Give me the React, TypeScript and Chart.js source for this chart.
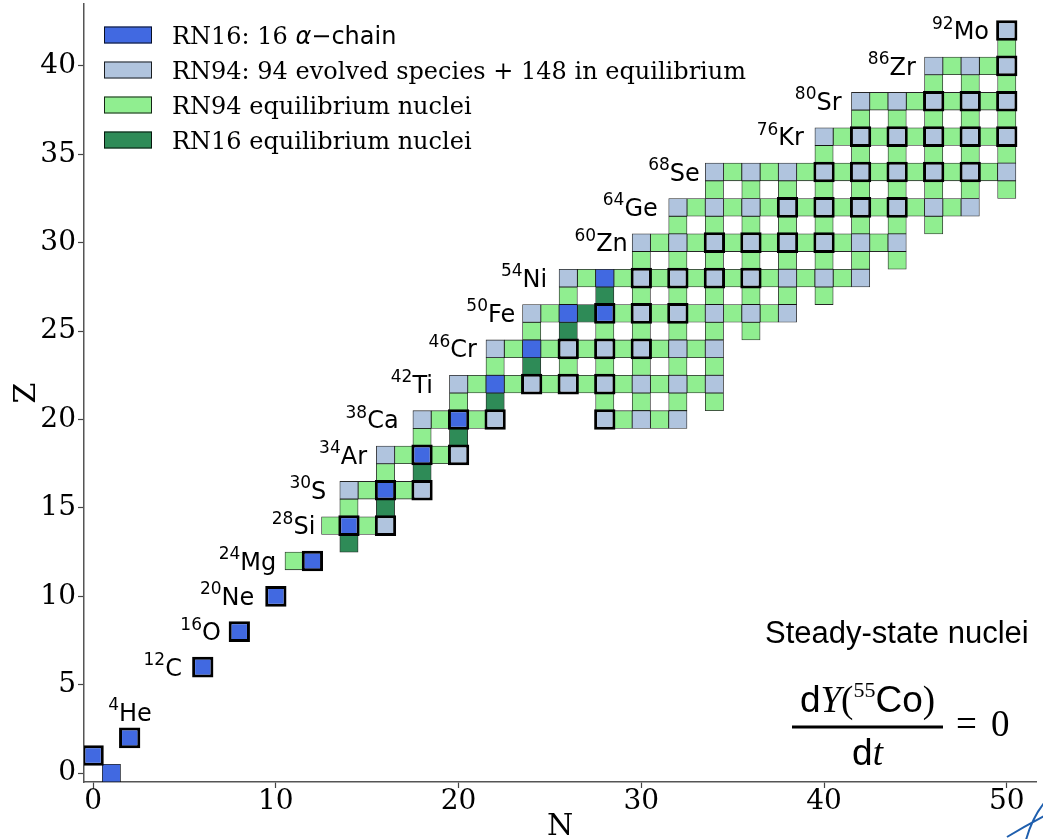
import React, { useEffect, useRef } from 'react';
import { Chart, registerables } from 'chart.js';

Chart.register(...registerables);

// ---- data: [N, Z] pairs ----
const alphaChainThick: [number, number][] = [
  [0, 1], [2, 2], [6, 6], [8, 8], [10, 10], [12, 12], [14, 14], [16, 16], [18, 18], [20, 20], [28, 26],
];
const alphaChainThin: [number, number][] = [[1, 0], [22, 22], [24, 24], [26, 26], [28, 28]];

const rn94EvolvedThick: [number, number][] = [
  [16, 14], [18, 16], [20, 18], [22, 20], [28, 20],
  [24, 22], [26, 22], [28, 22], [26, 24], [28, 24], [30, 24],
  [30, 26], [32, 26], [30, 28], [32, 28], [34, 28], [36, 28],
  [34, 30], [36, 30], [38, 30], [40, 30], [38, 32], [40, 32], [42, 32], [44, 32],
  [40, 34], [42, 34], [44, 34], [46, 34], [48, 34],
  [42, 36], [44, 36], [46, 36], [48, 36], [50, 36],
  [46, 38], [48, 38], [50, 38], [50, 40], [50, 42],
];
const rn94EvolvedThin: [number, number][] = [
  [14, 16], [16, 18], [18, 20], [30, 20], [32, 20],
  [20, 22], [30, 22], [32, 22], [34, 22], [22, 24], [32, 24], [34, 24],
  [24, 26], [34, 26], [36, 26], [38, 26], [26, 28], [38, 28], [40, 28], [42, 28],
  [30, 30], [32, 30], [42, 30], [44, 30], [32, 32], [34, 32], [36, 32], [46, 32], [48, 32],
  [34, 34], [36, 34], [38, 34], [50, 34], [40, 36], [42, 38], [44, 38], [46, 40], [48, 40],
];
const rn94Equilibrium: [number, number][] = [
  [11, 12], [13, 14], [15, 14], [14, 15], [15, 16], [17, 16], [16, 17], [17, 18], [19, 18], [18, 19],
  [19, 20], [21, 20], [29, 20], [31, 20],
  [20, 21], [28, 21], [30, 21], [32, 21], [34, 21],
  [21, 22], [23, 22], [25, 22], [27, 22], [29, 22], [31, 22], [33, 22],
  [22, 23], [26, 23], [28, 23], [30, 23], [32, 23], [34, 23],
  [23, 24], [25, 24], [27, 24], [29, 24], [31, 24], [33, 24],
  [24, 25], [28, 25], [30, 25], [32, 25], [34, 25], [36, 25],
  [25, 26], [29, 26], [31, 26], [33, 26], [35, 26], [37, 26],
  [26, 27], [30, 27], [32, 27], [34, 27], [36, 27], [38, 27], [40, 27],
  [27, 28], [29, 28], [31, 28], [33, 28], [35, 28], [37, 28], [39, 28], [41, 28],
  [30, 29], [32, 29], [34, 29], [36, 29], [38, 29], [40, 29], [42, 29], [44, 29],
  [31, 30], [33, 30], [35, 30], [37, 30], [39, 30], [41, 30], [43, 30],
  [32, 31], [34, 31], [36, 31], [38, 31], [40, 31], [42, 31], [44, 31], [46, 31],
  [33, 32], [35, 32], [37, 32], [39, 32], [41, 32], [43, 32], [45, 32], [47, 32],
  [34, 33], [36, 33], [38, 33], [40, 33], [42, 33], [44, 33], [46, 33], [48, 33], [50, 33],
  [35, 34], [37, 34], [39, 34], [41, 34], [43, 34], [45, 34], [47, 34], [49, 34],
  [40, 35], [42, 35], [44, 35], [46, 35], [48, 35], [50, 35],
  [41, 36], [43, 36], [45, 36], [47, 36], [49, 36],
  [42, 37], [44, 37], [46, 37], [48, 37], [50, 37],
  [43, 38], [45, 38], [47, 38], [49, 38],
  [46, 39], [48, 39], [50, 39], [47, 40], [49, 40], [50, 41],
];
const rn16Equilibrium: [number, number][] = [
  [14, 13], [16, 15], [18, 17], [20, 19], [22, 21], [24, 23], [26, 25], [27, 26], [28, 27],
];

const xTickValues = [0, 10, 20, 30, 40, 50];
const yTickValues = [0, 5, 10, 15, 20, 25, 30, 35, 40];

const labelElements = ['He', 'C', 'O', 'Ne', 'Mg', 'Si', 'S', 'Ar', 'Ca', 'Ti', 'Cr', 'Fe', 'Ni', 'Zn', 'Ge', 'Se', 'Kr', 'Sr', 'Zr', 'Mo'];
const labelMasses = ['4', '12', '16', '20', '24', '28', '30', '34', '38', '42', '46', '50', '54', '60', '64', '68', '76', '80', '86', '92'];
const labelN = [3.21, 4.86, 6.99, 8.82, 10.02, 12.16, 12.76, 14.99, 16.72, 18.6, 21.0, 23.1, 24.85, 29.26, 30.9, 33.2, 38.9, 40.96, 45.02, 49.03];
const labelZ = [3.47, 6, 8, 10, 12, 14, 16, 18, 20, 22, 24, 26, 28, 30, 32, 34, 36, 38, 40, 42];

const BLUE = '#4169E1';
const STEEL = '#B0C4DE';
const LGREEN = '#90EE90';
const SEAGREEN = '#2E8B57';

const legendColors = [BLUE, STEEL, LGREEN, SEAGREEN];
const SERIF24 = '24px "DejaVu Serif"';
const legendParts: { t: string; f: string }[][] = [
  [
    { t: 'RN16: 16 ', f: SERIF24 },
    { t: 'α', f: 'italic 24px "DejaVu Sans"' },
    { t: '−chain', f: '24px "DejaVu Sans"' },
  ],
  [{ t: 'RN94: 94 evolved species + 148 in equilibrium', f: SERIF24 }],
  [{ t: 'RN94 equilibrium nuclei', f: SERIF24 }],
  [{ t: 'RN16 equilibrium nuclei', f: SERIF24 }],
];

const THICK_PAD = 0.085;
const toBars = (cells: [number, number][], pad: number) =>
  cells.map(([n, z]) => ({ x: n, y: [z - 0.5 - pad, z + 0.5 + pad] }));

const overlayPlugin = {
  id: 'overlay',
  afterDraw(chart: any) {
    const { ctx } = chart;
    const xs = chart.scales.x;
    const ys = chart.scales.y;
    ctx.save();
    ctx.fillStyle = '#000';
    ctx.textBaseline = 'alphabetic';

    // element labels
    for (let i = 0; i < labelElements.length; i++) {
      const px = xs.getPixelForValue(labelN[i]);
      const py = ys.getPixelForValue(labelZ[i]);
      ctx.textAlign = 'right';
      ctx.font = '24px "DejaVu Sans"';
      ctx.fillText(labelElements[i], px, py + 8.7);
      const w = ctx.measureText(labelElements[i]).width;
      ctx.font = '17px "DejaVu Sans"';
      ctx.fillText(labelMasses[i], px - w, py - 2);
    }

    // legend
    ctx.textAlign = 'left';
    for (let i = 0; i < legendParts.length; i++) {
      const cy = 35 + i * 35;
      ctx.fillStyle = legendColors[i];
      ctx.fillRect(104, cy - 8.5, 48, 17);
      ctx.strokeStyle = 'rgba(0,0,0,0.85)';
      ctx.lineWidth = 1;
      ctx.strokeRect(104.5, cy - 8, 47, 16);
      ctx.fillStyle = '#000';
      let tx = 172;
      for (const p of legendParts[i]) {
        ctx.font = p.f;
        ctx.fillText(p.t, tx, cy + 8.7);
        tx += ctx.measureText(p.t).width;
      }
    }

    // Steady-state annotation
    ctx.font = '31px "Liberation Sans"';
    ctx.fillText('Steady-state nuclei', 765, 643);

    const SANS37 = '37px "Liberation Sans"';
    const SERIF37 = '37px "Liberation Serif"';
    const ITAL37 = 'italic 37px "Liberation Serif"';
    const numParts = [
      { t: 'd', f: SANS37, dy: 0 },
      { t: 'Y', f: ITAL37, dy: 0 },
      { t: '(', f: SERIF37, dy: 0 },
      { t: '55', f: '22px "Liberation Serif"', dy: -15 },
      { t: 'Co', f: SANS37, dy: 0 },
      { t: ')', f: SERIF37, dy: 0 },
    ];
    let total = 0;
    for (const p of numParts) { ctx.font = p.f; total += ctx.measureText(p.t).width; }
    const cx = 867.5;
    let nx = cx - total / 2;
    for (const p of numParts) {
      ctx.font = p.f;
      ctx.fillText(p.t, nx, 711.5 + p.dy);
      nx += ctx.measureText(p.t).width;
    }
    ctx.fillRect(792, 725.5, 151, 3);
    const denParts = [
      { t: 'd', f: SANS37 },
      { t: 't', f: ITAL37 },
    ];
    total = 0;
    for (const p of denParts) { ctx.font = p.f; total += ctx.measureText(p.t).width; }
    let dx = cx - total / 2;
    for (const p of denParts) {
      ctx.font = p.f;
      ctx.fillText(p.t, dx, 765);
      dx += ctx.measureText(p.t).width;
    }
    ctx.font = SERIF37;
    ctx.fillText('=', 956, 736);
    ctx.fillText('0', 991, 736);

    // corner mark
    ctx.strokeStyle = '#1f5fae';
    ctx.lineWidth = 2;
    ctx.beginPath();
    ctx.moveTo(1026, 840);
    ctx.quadraticCurveTo(1032, 818, 1044, 803);
    ctx.moveTo(1007, 837);
    ctx.quadraticCurveTo(1025, 826, 1044, 816);
    ctx.stroke();
    ctx.restore();
  },
};

export default function App() {
  const ref = useRef<HTMLCanvasElement | null>(null);

  useEffect(() => {
    document.body.style.margin = '0';
    const canvas = ref.current;
    if (!canvas) return;

    const thin = {
      borderWidth: 0.8,
      borderColor: 'rgba(0,0,0,0.85)',
      order: 1,
      barPercentage: 1,
    };
    const thick = {
      borderWidth: 3,
      borderColor: '#000',
      order: 0,
      barPercentage: 1.164,
    };

    const chart = new Chart(canvas, {
      type: 'bar',
      data: {
        datasets: [
          { label: 'alpha thick', data: toBars(alphaChainThick, THICK_PAD), backgroundColor: BLUE, ...thick },
          { label: 'evolved thick', data: toBars(rn94EvolvedThick, THICK_PAD), backgroundColor: STEEL, ...thick },
          { label: 'alpha', data: toBars(alphaChainThin, 0), backgroundColor: BLUE, ...thin },
          { label: 'evolved', data: toBars(rn94EvolvedThin, 0), backgroundColor: STEEL, ...thin },
          { label: 'RN94 eq', data: toBars(rn94Equilibrium, 0), backgroundColor: LGREEN, ...thin },
          { label: 'RN16 eq', data: toBars(rn16Equilibrium, 0), backgroundColor: SEAGREEN, ...thin },
        ] as any,
      },
      options: {
        animation: false,
        responsive: false,
        devicePixelRatio: 1,
        events: [],
        layout: { padding: { left: 0, right: 7, top: 4, bottom: 0 } },
        datasets: {
          bar: {
            grouped: false,
            categoryPercentage: 1,
            borderSkipped: false,
          } as any,
        },
        plugins: {
          legend: { display: false },
          tooltip: { enabled: false },
        },
        scales: {
          x: {
            type: 'linear',
            offset: false,
            min: -0.5,
            max: 51.6,
            afterBuildTicks: (s: any) => { s.ticks = xTickValues.map((v) => ({ value: v })); },
            afterFit: (s: any) => { s.height = 57; s.paddingLeft = 0; s.paddingRight = 0; },
            grid: { display: true, offset: false, drawOnChartArea: false, drawTicks: true, tickLength: 6, tickColor: '#444', tickWidth: 1.2 },
            border: { display: true, color: '#555', width: 1.5 },
            ticks: {
              color: '#000',
              font: { family: '"DejaVu Serif"', size: 28, lineHeight: 1 },
              padding: 0,
              maxRotation: 0,
              autoSkip: false,
            },
            title: {
              display: true,
              text: 'N',
              color: '#000',
              font: { family: '"DejaVu Serif"', size: 30, lineHeight: 1 },
              padding: { top: 0, bottom: -3 },
            },
          },
          y: {
            type: 'linear',
            offset: false,
            min: -0.5,
            max: 43.5,
            afterBuildTicks: (s: any) => { s.ticks = yTickValues.map((v) => ({ value: v })); },
            afterFit: (s: any) => { s.width = 84; s.paddingTop = 0; s.paddingBottom = 0; },
            grid: { display: true, offset: false, drawOnChartArea: false, drawTicks: true, tickLength: 6, tickColor: '#444', tickWidth: 1.2 },
            border: { display: true, color: '#555', width: 1.5 },
            ticks: {
              color: '#000',
              font: { family: '"DejaVu Serif"', size: 28, lineHeight: 1 },
              padding: 2,
              autoSkip: false,
            },
            title: {
              display: true,
              text: 'Z',
              color: '#000',
              font: { family: '"DejaVu Serif"', size: 30, lineHeight: 1 },
              padding: { top: 12, bottom: 0 },
            },
          },
        },
      } as any,
      plugins: [overlayPlugin],
    });

    return () => chart.destroy();
  }, []);

  return <canvas ref={ref} width={1043} height={839} style={{ display: 'block' }} />;
}
